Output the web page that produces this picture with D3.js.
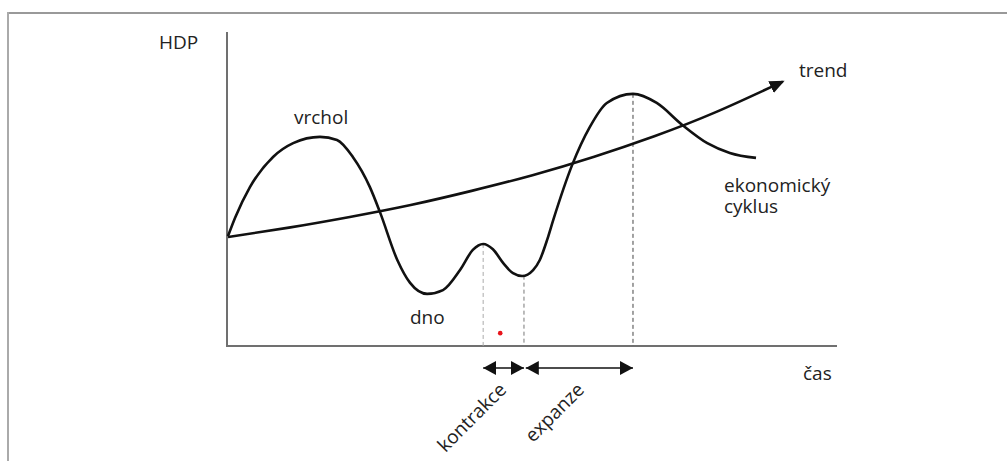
<!DOCTYPE html>
<html>
<head>
<meta charset="utf-8">
<script src="https://cdn.jsdelivr.net/npm/d3@7"></script>
<style>
  body { margin: 0; background: #fff; }
  text { font-family: "Open Sans", sans-serif; font-size: 19px; fill: #222; }
</style>
</head>
<body>
<svg id="chart" width="1007" height="461"></svg>
<script>
// economic cycle (time 0..100, HDP 0..100)
const cycleX = [0, 1.2, 3.6, 7.4, 10.7, 15.1, 17.9, 20.5, 23.3, 25.0, 27.8, 29.9, 32.7, 35.3, 38.1, 40.2,
                41.9, 43.5, 45.2, 46.8, 48.3, 50.1, 51.2, 52.4, 53.4, 56.5, 59.4, 62.2, 66.5, 70.4, 74.6, 78.7, 82.4, 86.7];
const cycleY = [35.0, 41.0, 50.6, 60.2, 64.6, 66.6, 65.6, 60.2, 50.6, 42.4, 27.4, 20.1, 16.6, 17.8, 24.2, 30.6,
                32.5, 30.8, 26.4, 23.2, 22.3, 24.2, 27.4, 33.8, 40.1, 57.6, 69.7, 77.4, 80.3, 77.4, 70.4, 64.6, 61.5, 59.9];

// long-run trend
const trendX = [0, 10, 20, 30, 40, 50, 60, 70, 80, 91.1];
const trendY = [34.7, 37.7, 41.1, 44.9, 49.4, 54.4, 60.2, 66.8, 74.4, 84.2];

// turning points with dashed drop lines
const turnX = [41.9, 48.6, 66.5];
const turnY = [32.5, 22.4, 80.3];
const turnColor = ["#aaa", "#777", "#444"];

// phases shown as double arrows under the axis
const phaseNames = ["kontrakce", "expanze"];
const phaseFrom = [41.9, 48.9];
const phaseTo = [48.6, 66.5];

const dotX = 44.7, dotY = 4.1;

const svg = d3.select("#chart");

const x = d3.scaleLinear().domain([0, 100]).range([228, 837]);
const y = d3.scaleLinear().domain([0, 100]).range([346, 32]);

// outer frame
svg.append("line").attr("x1", 7).attr("x2", 1007).attr("y1", 13).attr("y2", 13)
    .attr("stroke", "#999").attr("stroke-width", 2);
svg.append("line").attr("x1", 8).attr("x2", 8).attr("y1", 12).attr("y2", 461)
    .attr("stroke", "#aaa").attr("stroke-width", 2);

const defs = svg.append("defs");
defs.append("marker")
    .attr("id", "bigHead")
    .attr("markerUnits", "userSpaceOnUse")
    .attr("viewBox", "0 -8 16 16")
    .attr("refX", 13).attr("refY", 0)
    .attr("markerWidth", 16).attr("markerHeight", 16)
    .attr("orient", "auto")
    .append("path").attr("d", "M0,-6.5L15,0L0,6.5Z").attr("fill", "#111");
defs.append("marker")
    .attr("id", "smallHead")
    .attr("markerUnits", "userSpaceOnUse")
    .attr("viewBox", "0 -8 14 16")
    .attr("refX", 13).attr("refY", 0)
    .attr("markerWidth", 14).attr("markerHeight", 16)
    .attr("orient", "auto-start-reverse")
    .append("path").attr("d", "M0,-7L13,0L0,7Z").attr("fill", "#111");

// axes
svg.append("line").attr("x1", x(0) - 1).attr("x2", x(0) - 1).attr("y1", y(100)).attr("y2", y(0) + 1)
    .attr("stroke", "#707070").attr("stroke-width", 2);
svg.append("line").attr("x1", x(0) - 2).attr("x2", x(100)).attr("y1", y(0)).attr("y2", y(0))
    .attr("stroke", "#707070").attr("stroke-width", 2);

// dashed drop lines
svg.selectAll("line.drop")
    .data(turnX)
    .enter()
    .append("line")
    .attr("class", "drop")
    .attr("x1", d => x(d)).attr("x2", d => x(d))
    .attr("y1", (d, i) => y(turnY[i]))
    .attr("y2", y(0))
    .attr("stroke", (d, i) => turnColor[i])
    .attr("stroke-width", 1)
    .attr("stroke-dasharray", "4,3");

const line = d3.line().x(d => x(d[0])).y(d => y(d[1]));

// trend
svg.append("path")
    .attr("d", line.curve(d3.curveNatural)(d3.zip(trendX, trendY)))
    .attr("fill", "none")
    .attr("stroke", "#111")
    .attr("stroke-width", 2.6)
    .attr("marker-end", "url(#bigHead)");

// cycle
svg.append("path")
    .attr("d", line.curve(d3.curveMonotoneX)(d3.zip(cycleX, cycleY)))
    .attr("fill", "none")
    .attr("stroke", "#111")
    .attr("stroke-width", 2.6)
    .attr("stroke-linejoin", "round");

// phase arrows
const arrowY = 368;
svg.selectAll("line.phase")
    .data(phaseNames)
    .enter()
    .append("line")
    .attr("class", "phase")
    .attr("x1", (d, i) => x(phaseFrom[i]))
    .attr("x2", (d, i) => x(phaseTo[i]))
    .attr("y1", arrowY).attr("y2", arrowY)
    .attr("stroke", "#111")
    .attr("stroke-width", 1.3)
    .attr("marker-start", "url(#smallHead)")
    .attr("marker-end", "url(#smallHead)");

svg.selectAll("text.phase")
    .data(phaseNames)
    .enter()
    .append("text")
    .attr("class", "phase")
    .attr("text-anchor", "end")
    .attr("transform", function (d, i) {
        const cx = (x(phaseFrom[i]) + x(phaseTo[i])) / 2;
        const shift = i == 0 ? 4 : 6;
        return "translate(" + (cx + shift) + "," + 391 + ") rotate(-45)";
    })
    .text(d => d);

svg.append("circle").attr("cx", x(dotX)).attr("cy", y(dotY)).attr("r", 2.3).attr("fill", "#e8141b");

// labels
svg.append("text").attr("x", 159).attr("y", 49).text("HDP");
svg.append("text").attr("x", 294).attr("y", 124).text("vrchol");
svg.append("text").attr("x", 410).attr("y", 324).text("dno");
svg.append("text").attr("x", 799).attr("y", 77).text("trend");
const cyc = svg.append("text").attr("x", 724).attr("y", 192);
cyc.append("tspan").attr("x", 724).text("ekonomický");
cyc.append("tspan").attr("x", 724).attr("dy", 21).text("cyklus");
svg.append("text").attr("x", 803).attr("y", 380).text("čas");
</script>
</body>
</html>
